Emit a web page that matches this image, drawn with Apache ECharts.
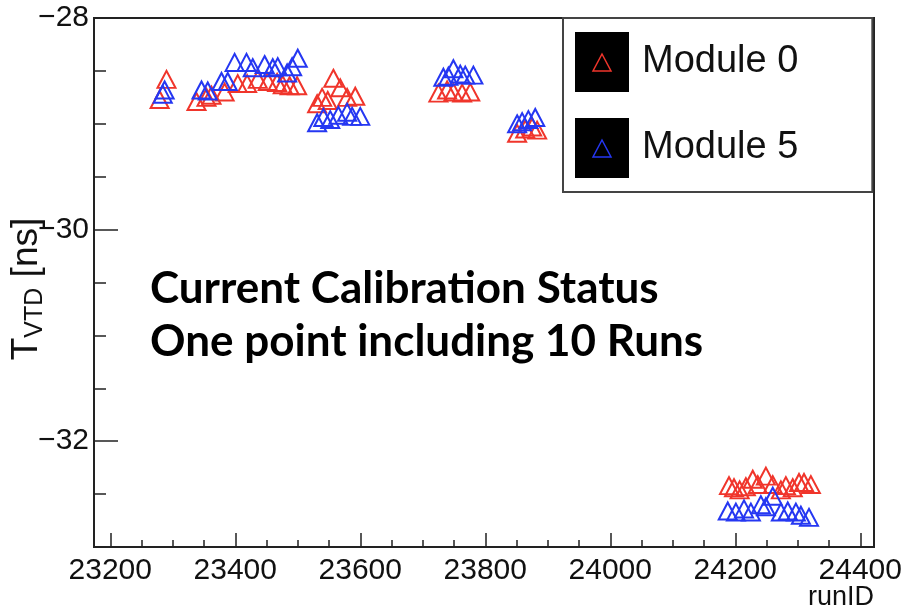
<!DOCTYPE html>
<html>
<head>
<meta charset="utf-8">
<style>
  html, body { margin: 0; padding: 0; background: #fff; }
  #chart { width: 903px; height: 611px; }
</style>
<script src="https://cdn.jsdelivr.net/npm/echarts@6/dist/echarts.min.js"></script>
</head>
<body>
<div id="chart"></div>
<script>
// Timing offset per calibration point (each point = 10 runs)
const seriesNames = ['Module 0', 'Module 5'];

const module0Run = [
  23290, 23279,
  23338, 23354, 23362, 23383, 23404, 23419, 23436, 23452, 23467, 23476, 23487, 23499,
  23531, 23539, 23548, 23557, 23568, 23579, 23592,
  23725, 23739, 23749, 23763, 23776,
  23851, 23864, 23875, 23883,
  24190, 24198, 24207, 24217, 24228, 24236, 24249, 24260, 24273, 24281, 24292, 24302, 24310, 24321
];
const module0T = [
  -28.58, -28.77,
  -28.79, -28.75, -28.73, -28.70, -28.62, -28.62, -28.58, -28.60, -28.61, -28.63, -28.64, -28.64,
  -28.81, -28.75, -28.78, -28.57, -28.66, -28.75, -28.74,
  -28.71, -28.68, -28.70, -28.71, -28.70,
  -29.09, -29.05, -29.03, -29.06,
  -32.42, -32.44, -32.46, -32.43, -32.36, -32.41, -32.33, -32.41, -32.46, -32.42, -32.44, -32.39, -32.39, -32.41
];

const module5Run = [
  23287, 23284,
  23346, 23356, 23378, 23388, 23399, 23418, 23428, 23447, 23460, 23468, 23483, 23491, 23500,
  23531, 23541, 23552, 23565, 23579, 23587, 23600,
  23733, 23741, 23749, 23760, 23768, 23781,
  23851, 23859, 23869, 23880,
  24188, 24201, 24214, 24225, 24241, 24249, 24260, 24273, 24284, 24297, 24305, 24318
];
const module5T = [
  -28.68, -28.72,
  -28.68, -28.69, -28.60, -28.60, -28.42, -28.42, -28.47, -28.44, -28.47, -28.46, -28.52, -28.46, -28.38,
  -28.99, -28.94, -28.96, -28.92, -28.89, -28.93, -28.93,
  -28.56, -28.55, -28.48, -28.53, -28.54, -28.54,
  -29.00, -28.98, -28.96, -28.94,
  -32.66, -32.67, -32.64, -32.67, -32.60, -32.62, -32.52, -32.67, -32.66, -32.67, -32.70, -32.72
];

// Axis ranges, tick values and titles
const xRange = [23174, 24422];
const yRange = [-33, -28];
const xMajorTicks = [23200, 23400, 23600, 23800, 24000, 24200, 24400];
const yMajorTicks = [-32, -30, -28];
const xMinorStep = 50;
const yMinorStep = 0.5;
const xTitle = 'runID';
const yTitle = ['T', 'VTD', ' [ns]'];

const colors = ['#f0352b', '#2537f2'];

function stepValues(from, to, step) {
  const out = [];
  for (let v = from; v <= to + 1e-9; v += step) out.push(Math.round(v * 1000) / 1000);
  return out;
}
const xMinorTicks = stepValues(xMajorTicks[0], xMajorTicks[xMajorTicks.length - 1], xMinorStep);
const yMinorTicks = stepValues(yRange[0], yRange[1], yMinorStep);

const fmtNeg = v => (v < 0 ? '\u2212' + Math.abs(v) : String(v));
const labelFont = 'Liberation Sans, Arial, Helvetica, sans-serif';

function zip(xs, ys) { return xs.map((x, i) => [x, ys[i]]); }

const chart = echarts.init(document.getElementById('chart'));

const option = {
  animation: false,
  backgroundColor: '#fff',
  grid: {
    left: 94, right: 29, top: 18, bottom: 64,
    outerBoundsMode: 'none', containLabel: false,
    show: true, borderColor: '#222', borderWidth: 2, backgroundColor: 'transparent'
  },
  xAxis: [
    {
      type: 'value', min: xRange[0], max: xRange[1],
      axisLine: { show: false },
      splitLine: { show: false },
      axisTick: { inside: true, length: 14, customValues: xMajorTicks, lineStyle: { color: '#222', width: 1.5 } },
      axisLabel: {
        customValues: xMajorTicks, margin: 9, formatter: v => String(v),
        fontFamily: labelFont, fontSize: 30, color: '#111'
      }
    },
    {
      type: 'value', min: xRange[0], max: xRange[1], position: 'bottom',
      axisLine: { show: false }, splitLine: { show: false }, axisLabel: { show: false },
      axisTick: { inside: true, length: 7, customValues: xMinorTicks, lineStyle: { color: '#222', width: 1.5 } }
    }
  ],
  yAxis: [
    {
      type: 'value', min: yRange[0], max: yRange[1],
      axisLine: { show: false },
      splitLine: { show: false },
      axisTick: { inside: true, length: 24, customValues: yMajorTicks, lineStyle: { color: '#222', width: 1.5 } },
      axisLabel: {
        customValues: yMajorTicks, margin: 5, formatter: fmtNeg,
        fontFamily: labelFont, fontSize: 30, color: '#111'
      }
    },
    {
      type: 'value', min: yRange[0], max: yRange[1], position: 'left',
      axisLine: { show: false }, splitLine: { show: false }, axisLabel: { show: false },
      axisTick: { inside: true, length: 12, customValues: yMinorTicks, lineStyle: { color: '#222', width: 1.5 } }
    }
  ],
  legend: {
    orient: 'vertical', left: 563, top: 18,
    padding: [14, 74, 14, 12],
    itemWidth: 54, itemHeight: 60, itemGap: 26,
    icon: 'rect',
    backgroundColor: '#fff', borderColor: '#444', borderWidth: 2, borderRadius: 0,
    itemStyle: { color: '#000', borderWidth: 0, opacity: 1 },
    textStyle: { fontFamily: labelFont, fontSize: 38, color: '#111', padding: [0, 0, 0, 8] },
    selectedMode: false,
    data: seriesNames
  },
  series: [
    {
      name: seriesNames[0], type: 'scatter', xAxisIndex: 0, yAxisIndex: 0,
      symbol: 'triangle', symbolSize: [18, 17],
      itemStyle: { color: 'rgba(0,0,0,0)', borderColor: colors[0], borderWidth: 2, opacity: 1 },
      data: zip(module0Run, module0T)
    },
    {
      name: seriesNames[1], type: 'scatter', xAxisIndex: 0, yAxisIndex: 0,
      symbol: 'triangle', symbolSize: [18, 17],
      itemStyle: { color: 'rgba(0,0,0,0)', borderColor: colors[1], borderWidth: 2, opacity: 1 },
      data: zip(module5Run, module5T)
    }
  ],
  graphic: [
    {
      type: 'text', right: 29, top: 584, z: 10,
      style: { text: xTitle, font: '27px ' + labelFont, fill: '#111' }
    },
    {
      type: 'text', x: 27, y: 289, rotation: Math.PI / 2, z: 10,
      style: {
        text: '{t|' + yTitle[0] + '}{s|' + yTitle[1] + '}{t|' + yTitle[2] + '}',
        align: 'center', verticalAlign: 'middle',
        rich: {
          t: { fontFamily: labelFont, fontSize: 37, fill: '#111' },
          s: { fontFamily: labelFont, fontSize: 25, fill: '#111', padding: [16, 0, 0, 0] }
        }
      }
    },
    {
      type: 'text', left: 150, top: 262, z: 10,
      style: {
        text: 'Current Calibration Status\nOne point including 10 Runs',
        font: 'bold 44px Lato, "Open Sans", sans-serif',
        lineHeight: 53, fill: '#000'
      }
    },
    {
      type: 'polygon', z: 100,
      shape: { points: [[602, 54], [611, 71], [593, 71]] },
      style: { fill: 'none', stroke: colors[0], lineWidth: 1.5 }
    },
    {
      type: 'polygon', z: 100,
      shape: { points: [[602, 140], [611, 157], [593, 157]] },
      style: { fill: 'none', stroke: colors[1], lineWidth: 1.5 }
    }
  ]
};

chart.setOption(option);
</script>
</body>
</html>
